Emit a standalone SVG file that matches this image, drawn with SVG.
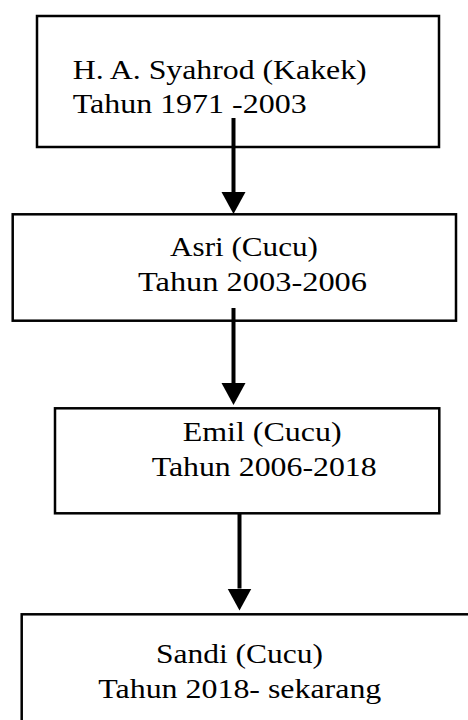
<svg xmlns="http://www.w3.org/2000/svg" width="468" height="720" viewBox="0 0 468 720">
<style>
.box{fill:#fff;stroke:#000;stroke-width:2.5}
.t{font-family:"Liberation Serif","Times New Roman",serif;font-size:28px;fill:#000}
.conn{stroke:#000;stroke-width:4;fill:none}
</style>
<defs>
<marker id="ah" markerUnits="userSpaceOnUse" markerWidth="24" markerHeight="26" viewBox="0 -13 24 26" refX="0" refY="0" orient="auto">
<path d="M0,-12 L22,0 L0,12 Z" fill="#000"/>
</marker>
</defs>
<rect width="468" height="720" fill="#fff"/>
<g id="node1">
<rect class="box" x="37" y="16" width="402" height="131"/>
<text class="t" x="72.7" y="78.5" textLength="294" lengthAdjust="spacingAndGlyphs">H. A. Syahrod (Kakek)</text>
<text class="t" x="72.7" y="112.5" textLength="234" lengthAdjust="spacingAndGlyphs">Tahun 1971 -2003</text>
</g>
<g id="node2">
<rect class="box" x="12.7" y="214.3" width="443.3" height="106.4"/>
<text class="t" x="170" y="256" textLength="148" lengthAdjust="spacingAndGlyphs">Asri (Cucu)</text>
<text class="t" x="138" y="291" textLength="229" lengthAdjust="spacingAndGlyphs">Tahun 2003-2006</text>
</g>
<g id="node3">
<rect class="box" x="55" y="408.3" width="384.3" height="105"/>
<text class="t" x="182.7" y="441" textLength="159" lengthAdjust="spacingAndGlyphs">Emil (Cucu)</text>
<text class="t" x="151.7" y="476" textLength="225" lengthAdjust="spacingAndGlyphs">Tahun 2006-2018</text>
</g>
<g id="node4">
<rect class="box" x="21.7" y="614.3" width="470" height="130"/>
<text class="t" x="156" y="662.5" textLength="167" lengthAdjust="spacingAndGlyphs">Sandi (Cucu)</text>
<text class="t" x="98.3" y="698.3" textLength="283" lengthAdjust="spacingAndGlyphs">Tahun 2018- sekarang</text>
</g>
<g id="connectors">
<line class="conn" x1="233.5" y1="118" x2="233.5" y2="192" marker-end="url(#ah)"/>
<line class="conn" x1="233.5" y1="308" x2="233.5" y2="383" marker-end="url(#ah)"/>
<line class="conn" x1="239.5" y1="513" x2="239.5" y2="588.5" marker-end="url(#ah)"/>
</g>
</svg>
